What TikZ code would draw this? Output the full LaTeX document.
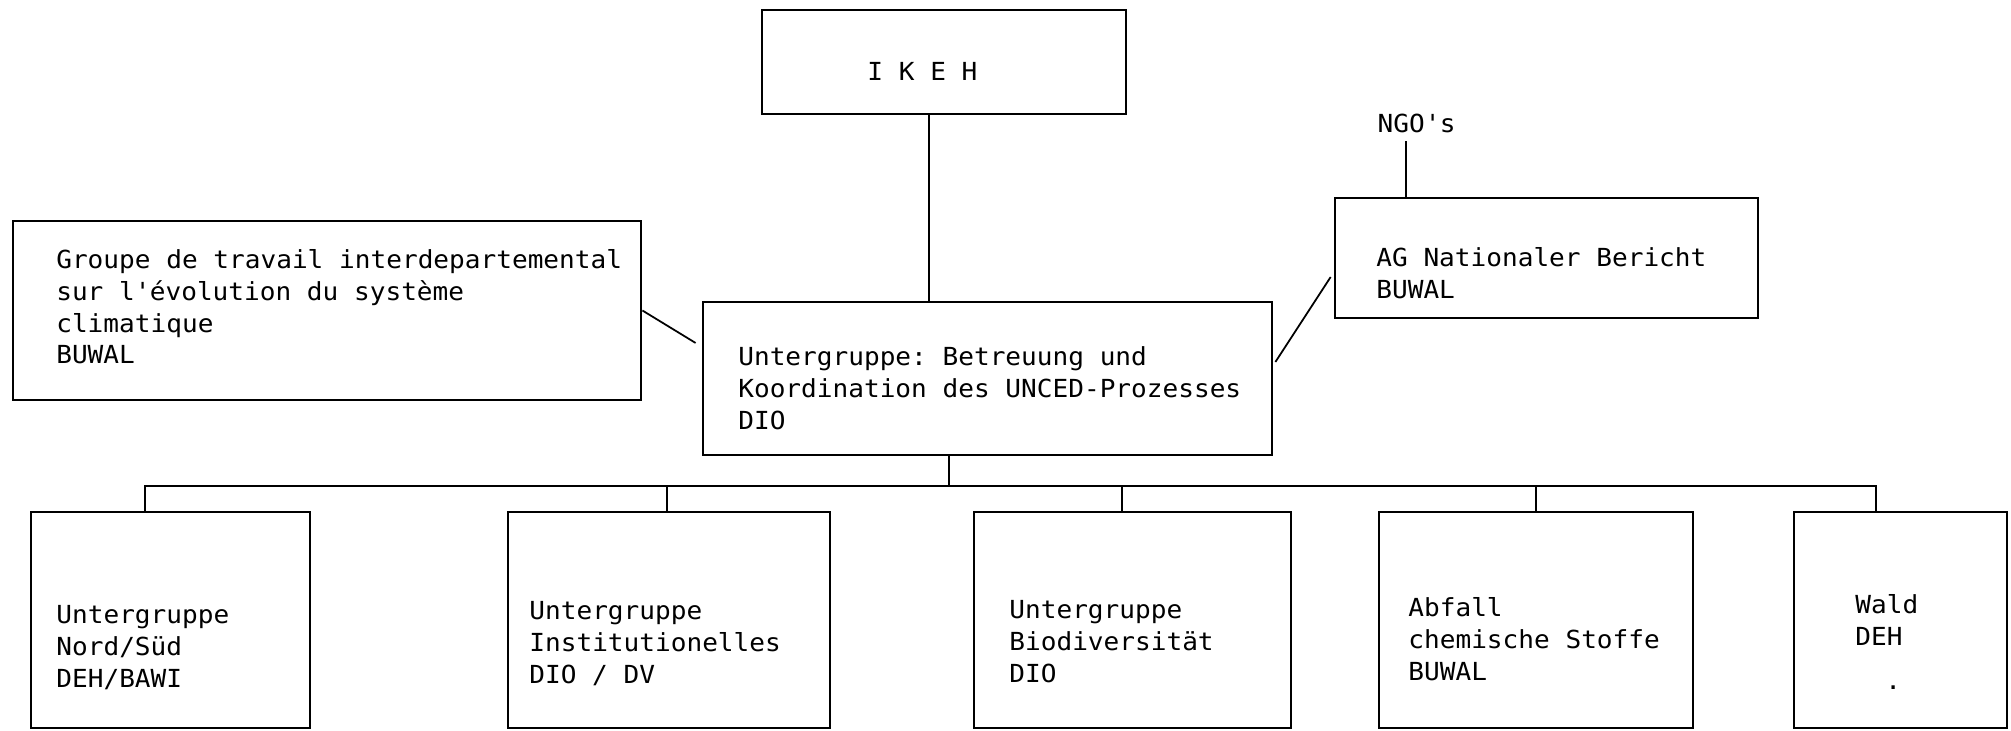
\documentclass[tikz,border=0pt]{standalone}
\usepackage{fontspec}
\newfontfamily\typew[FakeStretch=1.05]{DejaVu Sans Mono}
\newcommand{\maskin}{\typew\fontsize{7.07pt}{9pt}\selectfont}

\begin{document}
\begin{tikzpicture}[x=0.01cm,y=-0.01cm,font=\maskin]
\tikzset{
    %Define style for boxes
    boks/.style={
           rectangle,
           draw=black, line width=0.7pt,
           inner sep=0pt},
    %Define style for the texts in the boxes
    tekst/.style={
           anchor=base west,
           inner sep=0pt,
           align=left,
           text width=#1,
           execute at begin node={\spaceskip=0.157cm\xspaceskip=0.157cm\relax}},
    tekst/.default=5.5cm,
    % Define line style
    strek/.style={
           draw=black,
           line width=0.5pt}
}
	\path[use as bounding box] (0,0) rectangle (2011,731);

 %boxes
	\node[boks,minimum width=3.64cm,minimum height=1.04cm] (ikeh) at (944,62) {};
	\node[boks,minimum width=5.69cm,minimum height=1.53cm] (unced) at (987.5,378.5) {};
	\node[boks,minimum width=6.28cm,minimum height=1.79cm] (groupe) at (327,310.5) {};
	\node[boks,minimum width=4.23cm,minimum height=1.20cm] (agnb) at (1546.5,258) {};
	\node[boks,minimum width=2.79cm,minimum height=2.16cm] (ug1) at (170.5,620) {};
	\node[boks,minimum width=3.22cm,minimum height=2.16cm] (ug2) at (669,620) {};
	\node[boks,minimum width=3.17cm,minimum height=2.16cm] (ug3) at (1132.5,620) {};
	\node[boks,minimum width=3.14cm,minimum height=2.16cm] (ug4) at (1536,620) {};
	\node[boks,minimum width=2.13cm,minimum height=2.16cm] (ug5) at (1900.5,620) {};

 %texts
	\node[tekst=2.5cm,shift={(1.06cm,-0.72cm)}] (ikehtxt) at (ikeh.north west) {I K E H};
	\node[tekst=6cm,shift={(0.44cm,-0.49cm)}] (groupetxt) at (groupe.north west) {Groupe de travail interdepartemental\\sur l\textquotesingle évolution du système\\climatique\\BUWAL};
	\node[tekst,shift={(0.36cm,-0.65cm)}] (uncedtxt) at (unced.north west) {Untergruppe: Betreuung und\\Koordination des UNCED-Prozesses\\DIO};
	\node[tekst=3.8cm,shift={(0.42cm,-0.70cm)}] (agnbtxt) at (agnb.north west) {AG Nationaler Bericht\\BUWAL};
	\node[anchor=base west,inner xsep=0pt,inner ysep=0.07cm] (ngo) at (1377,133) {NGO\textquotesingle s};
	\node[tekst=2.5cm,shift={(0.26cm,-1.13cm)}] (ug1txt) at (ug1.north west) {Untergruppe\\Nord/Süd\\DEH/BAWI};
	\node[tekst=3cm,shift={(0.22cm,-1.09cm)}] (ug2txt) at (ug2.north west) {Untergruppe\\Institutionelles\\DIO / DV};
	\node[tekst=3cm,shift={(0.36cm,-1.08cm)}] (ug3txt) at (ug3.north west) {Untergruppe\\Biodiversität\\DIO};
	\node[tekst=3cm,shift={(0.30cm,-1.06cm)}] (ug4txt) at (ug4.north west) {Abfall\\chemische Stoffe\\BUWAL};
	\node[tekst=1.4cm,shift={(0.62cm,-1.03cm)}] (ug5txt) at (ug5.north west) {Wald\\DEH\\[0.12cm]\hspace*{0.3cm}.};

 %lines
	\draw[strek] ([xshift=-0.15cm]ikeh.south) -- ([xshift=-0.15cm]ikeh.south |- unced.north);
	\draw[strek] (groupe.east) -- ([shift={(-0.06cm,0.355cm)}]unced.west);
	\draw[strek] ([shift={(0.02cm,0.165cm)}]unced.east) -- ([shift={(-0.03cm,-0.19cm)}]agnb.west);
	\draw[strek] ([xshift=-0.105cm]ngo.south) -- ([xshift=-0.105cm]ngo.south |- agnb.north);
	\draw[strek] ([xshift=-0.385cm]unced.south) -- ++(0,-0.3cm) coordinate (hub);
	\draw[strek] ([xshift=-0.255cm]ug1.north) |- (hub) -| ([xshift=-0.245cm]ug5.north);
	\draw[strek] ([xshift=-0.02cm]ug2.north) -- ([xshift=-0.02cm]ug2.north |- hub);
	\draw[strek] ([xshift=-0.105cm]ug3.north) -- ([xshift=-0.105cm]ug3.north |- hub);
	\draw[strek] (ug4.north) -- (ug4.north |- hub);

\end{tikzpicture}
\end{document}
